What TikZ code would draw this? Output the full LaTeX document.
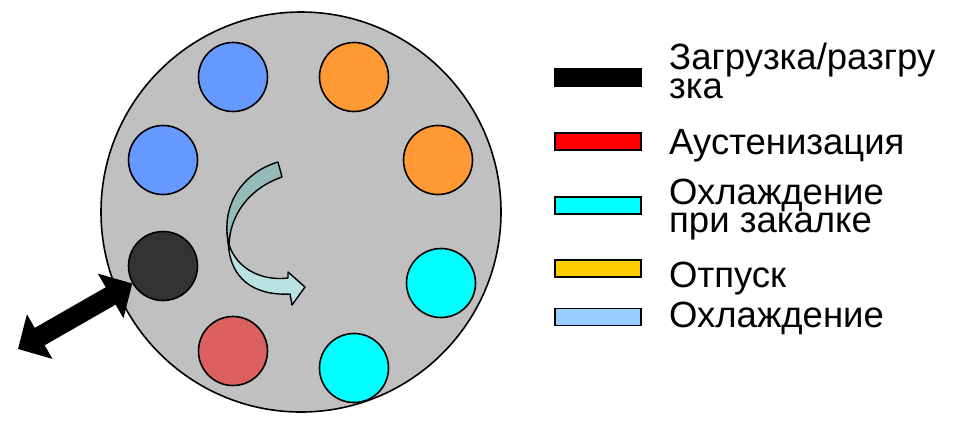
\documentclass[tikz,border=0pt]{standalone}
\usepackage{fontspec}
\setmainfont{Liberation Sans}
\usetikzlibrary{arrows.meta}
\definecolor{cgray}{HTML}{C0C0C0}
\definecolor{cblue}{HTML}{6699FF}
\definecolor{corange}{HTML}{FF9933}
\definecolor{cblack}{HTML}{333333}
\definecolor{cred}{HTML}{DD6060}
\definecolor{ccyan}{HTML}{00FFFF}
\definecolor{lyellow}{HTML}{FFCC00}
\definecolor{llblue}{HTML}{99CCFF}
\definecolor{adark}{HTML}{95BABA}
\definecolor{alight}{HTML}{B9E2E2}
\begin{document}
\begin{tikzpicture}[x=1pt,y=-1pt,
  slot/.style={circle,draw=black,line width=1.6pt,minimum size=69pt,inner sep=0pt},
  legbox/.style={draw=black,line width=1.6pt,minimum width=86pt,minimum height=17pt,inner sep=0pt},
  legtext/.style={anchor=base west,font=\fontsize{36.5}{26}\selectfont,align=left,inner sep=0pt}]
\useasboundingbox (0,0) rectangle (955,424);
\node[circle,draw=black,line width=1.6pt,fill=cgray,minimum size=400pt,inner sep=0pt] (disk) at (301,212) {};
\node[slot,fill=cblue] (s1) at (233,77) {};
\node[slot,fill=corange] (s2) at (354,77) {};
\node[slot,fill=cblue] (s3) at (163,160) {};
\node[slot,fill=corange] (s4) at (438,160) {};
\node[slot,fill=cblack] (s5) at (163,266) {};
\node[slot,fill=ccyan] (s6) at (441,283) {};
\node[slot,fill=cred] (s7) at (233,351) {};
\node[slot,fill=ccyan] (s8) at (354,368) {};
\coordinate (ext) at (18,349);
\draw[line width=20pt,{Triangle[length=25pt,width=50pt]}-{Triangle[length=25pt,width=50pt]}] (ext) -- (s5);
% curved arrow
\draw[fill=alight,line width=1.4pt,line join=round]
  (227,232) .. controls (228,262) and (255,282) .. (288,278)
  -- (288,272) -- (305,287) -- (292,305) -- (290,294)
  .. controls (250,296) and (232,275) .. (229,250) -- cycle;
\draw[fill=adark,line width=1.4pt,line join=round]
  (278,162) .. controls (245,172) and (225,200) .. (227,232)
  -- (229,250) .. controls (228,215) and (250,188) .. (282,177) -- cycle;
% legend
\node[legbox,fill=black] (l1) at (598,77.5) {};
\node[legbox,fill=red] (l2) at (598,141.5) {};
\node[legbox,fill=ccyan] (l3) at (598,205.5) {};
\node[legbox,fill=lyellow] (l4) at (598,268.5) {};
\node[legbox,fill=llblue] (l5) at (598,317) {};
\node[legtext] (t1) at (669,98) {Загрузка/разгру\\зка};
\node[legtext] (t2) at (669,154) {Аустенизация};
\node[legtext] (t3) at (669,232) {Охлаждение\\при закалке};
\node[legtext] (t4) at (669,287) {Отпуск};
\node[legtext] (t5) at (669,327) {Охлаждение};
\end{tikzpicture}
\end{document}
